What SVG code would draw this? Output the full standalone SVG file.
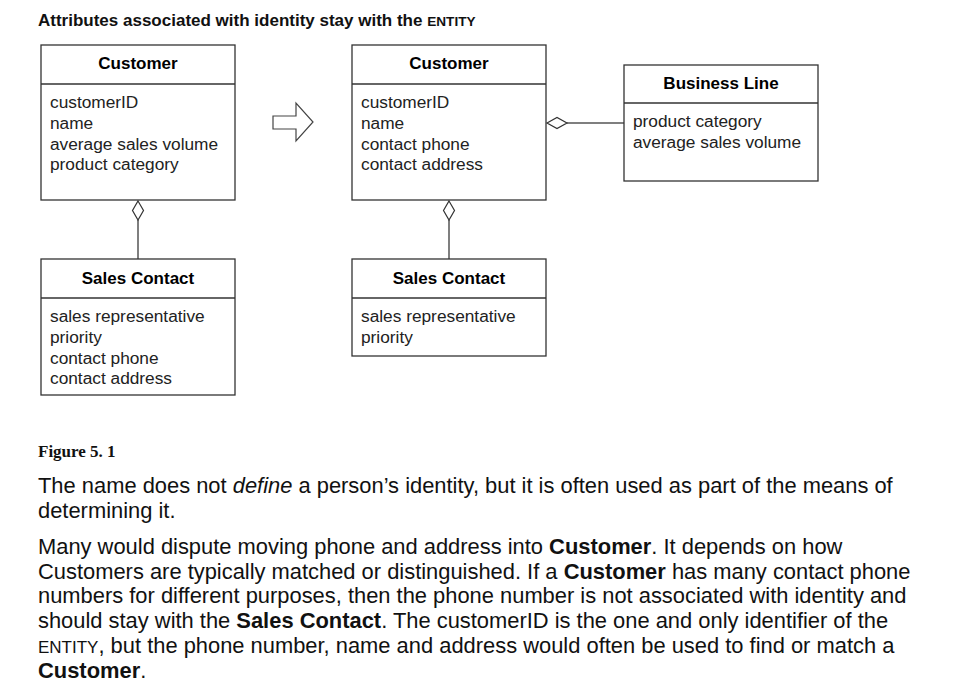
<svg xmlns="http://www.w3.org/2000/svg" width="953" height="695" viewBox="0 0 953 695">
<style>
.box{fill:#fff;stroke:#333;stroke-width:1.3}
.div{stroke:#333;stroke-width:1.3}
.hdr{font-family:"Liberation Sans",Arial,sans-serif;font-size:17px;font-weight:bold;fill:#000;text-anchor:middle}
.att{font-family:"Liberation Sans",Arial,sans-serif;font-size:17.3px;fill:#222}
.con{stroke:#555;stroke-width:1.5;fill:none}
.dia{fill:#fff;stroke:#333;stroke-width:1.2}
.body{font-family:"Liberation Sans",Arial,sans-serif;font-size:21.9px;fill:#111}
</style>
<rect width="953" height="695" fill="#fff"/>
<text x="38" y="26" font-family="Liberation Sans, Arial, sans-serif" font-size="17" font-weight="bold" fill="#111">Attributes associated with identity stay with the <tspan font-size="13.6">ENTITY</tspan></text>

<g id="connectors">
<line class="con" x1="138" y1="220" x2="138" y2="259"/>
<polygon class="dia" points="138,201 143.5,210.5 138,220 132.5,210.5"/>
<line class="con" x1="449" y1="220" x2="449" y2="259"/>
<polygon class="dia" points="449,201 454.5,210.5 449,220 443.5,210.5"/>
<line class="con" x1="567" y1="123" x2="624" y2="123"/>
<polygon class="dia" points="547,123 557,117.5 567,123 557,128.5"/>
</g>

<g id="transform-arrow">
<polygon points="273,116 296,116 296,103 313,122 296,141 296,129 273,129" fill="#fff" stroke="#444" stroke-width="1.2"/>
</g>

<g id="customer-before">
<rect class="box" x="41" y="45" width="194" height="155"/>
<line class="div" x1="41" y1="84" x2="235" y2="84"/>
<text class="hdr" x="138" y="69">Customer</text>
<text class="att" x="50" y="108">customerID</text>
<text class="att" x="50" y="129">name</text>
<text class="att" x="50" y="150">average sales volume</text>
<text class="att" x="50" y="170">product category</text>
</g>

<g id="customer-after">
<rect class="box" x="352" y="45" width="194" height="155"/>
<line class="div" x1="352" y1="84" x2="546" y2="84"/>
<text class="hdr" x="449" y="69">Customer</text>
<text class="att" x="361" y="108">customerID</text>
<text class="att" x="361" y="129">name</text>
<text class="att" x="361" y="150">contact phone</text>
<text class="att" x="361" y="170">contact address</text>
</g>

<g id="business-line">
<rect class="box" x="624" y="65" width="194" height="116"/>
<line class="div" x1="624" y1="103" x2="818" y2="103"/>
<text class="hdr" x="721" y="89">Business Line</text>
<text class="att" x="633" y="127">product category</text>
<text class="att" x="633" y="148">average sales volume</text>
</g>

<g id="sales-contact-before">
<rect class="box" x="41" y="259" width="194" height="136"/>
<line class="div" x1="41" y1="298" x2="235" y2="298"/>
<text class="hdr" x="138" y="284">Sales Contact</text>
<text class="att" x="50" y="322">sales representative</text>
<text class="att" x="50" y="343">priority</text>
<text class="att" x="50" y="364">contact phone</text>
<text class="att" x="50" y="384">contact address</text>
</g>

<g id="sales-contact-after">
<rect class="box" x="352" y="259" width="194" height="97"/>
<line class="div" x1="352" y1="298" x2="546" y2="298"/>
<text class="hdr" x="449" y="284">Sales Contact</text>
<text class="att" x="361" y="322">sales representative</text>
<text class="att" x="361" y="343">priority</text>
</g>

<text x="38" y="457" font-family="Liberation Serif, Times New Roman, serif" font-size="17" font-weight="bold" fill="#111">Figure 5. 1</text>

<text class="body" x="38" y="493">The name does not <tspan font-style="italic">define</tspan> a person’s identity, but it is often used as part of the means of</text>
<text class="body" x="38" y="518">determining it.</text>

<text class="body" x="38" y="554">Many would dispute moving phone and address into <tspan font-weight="bold">Customer</tspan>. It depends on how</text>
<text class="body" x="38" y="579">Customers are typically matched or distinguished. If a <tspan font-weight="bold">Customer</tspan> has many contact phone</text>
<text class="body" x="38" y="603">numbers for different purposes, then the phone number is not associated with identity and</text>
<text class="body" x="38" y="628">should stay with the <tspan font-weight="bold">Sales Contact</tspan>. The customerID is the one and only identifier of the</text>
<text class="body" x="38" y="653"><tspan font-size="17">ENTITY</tspan>, but the phone number, name and address would often be used to find or match a</text>
<text class="body" x="38" y="678"><tspan font-weight="bold">Customer</tspan>.</text>
</svg>
